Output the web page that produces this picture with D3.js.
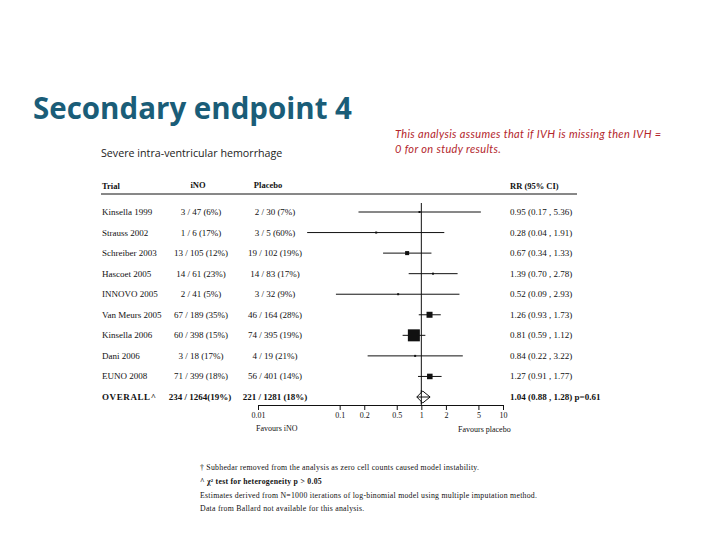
<!DOCTYPE html>
<html>
<head>
<meta charset="utf-8" />
<title>Secondary endpoint 4</title>
<style>
html, body{
	margin: 0px;
	padding: 0px;
	background: #fff;
}
svg text{ font-family: "Liberation Serif", "DejaVu Serif", serif; fill: #111; }
</style>
</head>
<body>
<svg id="chart" width="720" height="540"></svg>

<script src="https://cdn.jsdelivr.net/npm/d3@7/dist/d3.min.js"></script>
<script>

// data
var trials   = ["Kinsella 1999", "Strauss 2002", "Schreiber 2003", "Hascoet 2005", "INNOVO 2005",
                "Van Meurs 2005", "Kinsella 2006", "Dani 2006", "EUNO 2008"];
var inoText  = ["3 / 47 (6%)", "1 / 6 (17%)", "13 / 105 (12%)", "14 / 61 (23%)", "2 / 41 (5%)",
                "67 / 189 (35%)", "60 / 398 (15%)", "3 / 18 (17%)", "71 / 399 (18%)"];
var placText = ["2 / 30 (7%)", "3 / 5 (60%)", "19 / 102 (19%)", "14 / 83 (17%)", "3 / 32 (9%)",
                "46 / 164 (28%)", "74 / 395 (19%)", "4 / 19 (21%)", "56 / 401 (14%)"];
var rr       = [0.95, 0.28, 0.67, 1.39, 0.52, 1.26, 0.81, 0.84, 1.27];
var ciLow    = [0.17, 0.04, 0.34, 0.70, 0.09, 0.93, 0.59, 0.22, 0.91];
var ciHigh   = [5.36, 1.91, 1.33, 2.78, 2.93, 1.73, 1.12, 3.22, 1.77];
var weight   = [1, 1, 4.5, 1, 1, 10, 40, 1, 8.5];   // relative square size

var overall  = {label: "OVERALL^", ino: "234 / 1264(19%)", plac: "221 / 1281 (18%)",
                rr: 1.04, lo: 0.88, hi: 1.28, p: "0.61"};
var tickVals = [0.01, 0.1, 0.2, 0.5, 1, 2, 5, 10];
var tickText = ["0.01", "0.1", "0.2", "0.5", "1", "2", "5", "10"];

var notes = [
	"\u2020 Subhedar removed from the analysis as zero cell counts caused model instability.",
	"^ \u03c7\u00b2 test for heterogeneity p > 0.05",
	"Estimates derived from N=1000 iterations of log-binomial model using multiple imputation method.",
	"Data from Ballard not available for this analysis."
];

var svg = d3.select("#chart");

// title + subtitle + note
svg.append("text").attr("x", 33).attr("y", 119)
	.style("font-family", "'Open Sans', sans-serif").style("font-weight", 700)
	.style("font-size", "29.5px").style("fill", "#1a5d78")
	.text("Secondary endpoint 4");

svg.append("text").attr("x", 101).attr("y", 157)
	.style("font-family", "'Open Sans', sans-serif").style("font-size", "10.7px")
	.style("fill", "#222")
	.text("Severe intra-ventricular hemorrhage");

svg.selectAll("text.note").data(["This analysis assumes that if IVH is missing then IVH =", "0 for on study results."])
	.enter().append("text").attr("class", "note")
	.attr("x", 395).attr("y", function(d, i){ return 138 + i * 15; })
	.style("font-family", "Lato, sans-serif").style("font-style", "italic")
	.style("font-size", "11px").style("letter-spacing", "0.35px").style("fill", "#b3262c")
	.text(function(d){ return d; });

// scales
var x = d3.scaleLog().domain([0.01, 10]).range([258, 503]);
var rows = trials.concat([overall.label]);
var y = d3.scalePoint().domain(rows).range([212, 397]);
var side = d3.scaleSqrt().domain([0, d3.max(weight)]).range([0, 12]);

var fs = "9px";

// header
var head = svg.append("g").style("font-weight", "bold").style("font-size", "8.5px");
head.append("text").attr("x", 102).attr("y", 189).text("Trial");
head.append("text").attr("x", 198).attr("y", 188).attr("text-anchor", "middle").text("iNO");
head.append("text").attr("x", 268).attr("y", 188).attr("text-anchor", "middle").text("Placebo");
head.append("text").attr("x", 510).attr("y", 189).text("RR (95% CI)");
svg.append("line").attr("x1", 101).attr("x2", 577).attr("y1", 194).attr("y2", 194)
	.attr("stroke", "#111").attr("stroke-width", 1);

// table columns
var tbl = svg.append("g").style("font-size", fs);
trials.forEach(function(t, i){
	var yy = y(t) + 3;
	tbl.append("text").attr("x", 102).attr("y", yy).text(t);
	tbl.append("text").attr("x", 201).attr("y", yy).attr("text-anchor", "middle").text(inoText[i]);
	tbl.append("text").attr("x", 275).attr("y", yy).attr("text-anchor", "middle").text(placText[i]);
	tbl.append("text").attr("x", 510).attr("y", yy)
		.text(rr[i].toFixed(2) + " (" + ciLow[i].toFixed(2) + " , " + ciHigh[i].toFixed(2) + ")");
});
var ov = svg.append("g").style("font-size", fs).style("font-weight", "bold");
var oy = y(overall.label) + 3;
ov.append("text").attr("x", 102).attr("y", oy).style("letter-spacing", "0.6px").text(overall.label);
ov.append("text").attr("x", 200).attr("y", oy).attr("text-anchor", "middle").text(overall.ino);
ov.append("text").attr("x", 275).attr("y", oy).attr("text-anchor", "middle").text(overall.plac);
ov.append("text").attr("x", 510).attr("y", oy)
	.text(overall.rr.toFixed(2) + " (" + overall.lo.toFixed(2) + " , " + overall.hi.toFixed(2) + ") p=" + overall.p);

// reference line at 1
svg.append("line").attr("x1", x(1)).attr("x2", x(1)).attr("y1", 203).attr("y2", 405)
	.attr("stroke", "#111").attr("stroke-width", 1);

// CI lines and squares
var plot = svg.append("g");
plot.selectAll("line.ci").data(trials).enter().append("line").attr("class", "ci")
	.attr("x1", function(d, i){ return x(ciLow[i]); })
	.attr("x2", function(d, i){ return x(ciHigh[i]); })
	.attr("y1", function(d){ return y(d); })
	.attr("y2", function(d){ return y(d); })
	.attr("stroke", "#111").attr("stroke-width", 1);

plot.selectAll("rect.pt").data(trials).enter().append("rect").attr("class", "pt")
	.attr("x", function(d, i){ return x(rr[i]) - Math.max(2, side(weight[i])) / 2; })
	.attr("y", function(d, i){ return y(d) - Math.max(2, side(weight[i])) / 2; })
	.attr("width", function(d, i){ return Math.max(2, side(weight[i])); })
	.attr("height", function(d, i){ return Math.max(2, side(weight[i])); })
	.attr("fill", "#111");

// overall diamond
var dy = y(overall.label);
svg.append("path")
	.attr("d", "M" + x(overall.lo) + "," + dy + "L" + x(overall.rr) + "," + (dy - 6) +
		"L" + x(overall.hi) + "," + dy + "L" + x(overall.rr) + "," + (dy + 6) + "Z")
	.attr("fill", "#fff").attr("stroke", "#111").attr("stroke-width", 1);
svg.append("line").attr("x1", x(overall.lo)).attr("x2", x(overall.hi)).attr("y1", dy).attr("y2", dy)
	.attr("stroke", "#111").attr("stroke-width", 1);
svg.append("line").attr("x1", x(1)).attr("x2", x(1)).attr("y1", dy - 7).attr("y2", dy + 7)
	.attr("stroke", "#111").attr("stroke-width", 1);

// axis
var axis = d3.axisBottom(x).tickValues(tickVals)
	.tickFormat(function(d, i){ return tickText[i]; }).tickSize(5).tickSizeOuter(0);
var ag = svg.append("g").attr("transform", "translate(0,405)").call(axis);
ag.select(".domain").attr("stroke", "#111");
ag.selectAll(".tick line").attr("stroke", "#111");
ag.selectAll(".tick text").attr("dy", "0.9em").attr("y", 6)
	.style("font-family", "'Liberation Serif', serif").style("font-size", "8px").attr("fill", "#111");

svg.append("text").attr("x", 256).attr("y", 431).style("font-size", "8px").text("Favours iNO");
svg.append("text").attr("x", 458).attr("y", 432).style("font-size", "8px").text("Favours placebo");

// footnotes
svg.selectAll("text.foot").data(notes).enter().append("text").attr("class", "foot")
	.attr("x", 200).attr("y", function(d, i){ return [470, 484, 498, 511][i]; })
	.style("font-size", "7.8px").style("letter-spacing", "0.25px")
	.style("font-weight", function(d, i){ return i === 1 ? "bold" : "normal"; })
	.text(function(d){ return d; });

</script>
</body>
</html>
